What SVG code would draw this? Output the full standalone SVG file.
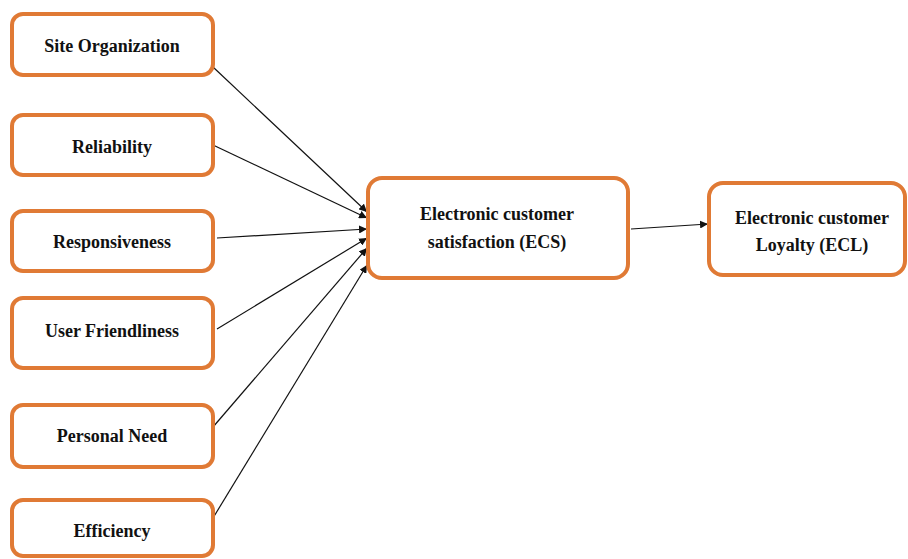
<svg xmlns="http://www.w3.org/2000/svg" width="908" height="559" viewBox="0 0 908 559">
<style>
.box{fill:#fff;stroke:#E07A35;stroke-width:4}
.t{font-family:"Liberation Serif","Times New Roman",serif;font-weight:bold;font-size:18px;fill:#111;text-anchor:middle}
.c{stroke:#111;stroke-width:1.2;fill:none;marker-end:url(#ah)}
</style>
<defs>
<marker id="ah" viewBox="0 0 10 10" refX="10" refY="5" markerWidth="8" markerHeight="8" markerUnits="userSpaceOnUse" orient="auto">
<path d="M0,0 L10,5 L0,10 z" fill="#111"/>
</marker>
</defs>
<rect width="908" height="559" fill="#fff"/>
<g id="connectors">
<line class="c" x1="213" y1="67" x2="367" y2="212"/>
<line class="c" x1="213" y1="145" x2="367" y2="218"/>
<line class="c" x1="217" y1="238" x2="367" y2="229"/>
<line class="c" x1="217" y1="329" x2="367" y2="238"/>
<line class="c" x1="213" y1="427" x2="367" y2="248"/>
<line class="c" x1="213" y1="518" x2="367" y2="265"/>
<line class="c" x1="631" y1="229" x2="708" y2="224"/>
</g>
<g id="site-organization"><rect class="box" x="12" y="14" width="201" height="61" rx="11"/><text class="t" x="112" y="52">Site Organization</text></g>
<g id="reliability"><rect class="box" x="12" y="115" width="201" height="60" rx="11"/><text class="t" x="112" y="153">Reliability</text></g>
<g id="responsiveness"><rect class="box" x="12" y="211" width="201" height="60" rx="11"/><text class="t" x="112" y="248">Responsiveness</text></g>
<g id="user-friendliness"><rect class="box" x="12" y="298" width="201" height="70" rx="11"/><text class="t" x="112" y="337">User Friendliness</text></g>
<g id="personal-need"><rect class="box" x="12" y="405" width="201" height="62" rx="11"/><text class="t" x="112" y="442">Personal Need</text></g>
<g id="efficiency"><rect class="box" x="12" y="500" width="201" height="56" rx="11"/><text class="t" x="112" y="537">Efficiency</text></g>
<g id="ecs"><rect class="box" x="368" y="178" width="260" height="100" rx="14"/><text class="t" x="497" y="220">Electronic customer</text><text class="t" x="497" y="248">satisfaction (ECS)</text></g>
<g id="ecl"><rect class="box" x="709" y="183" width="196" height="92" rx="14"/><text class="t" x="812" y="224">Electronic customer</text><text class="t" x="812" y="251">Loyalty (ECL)</text></g>
</svg>
